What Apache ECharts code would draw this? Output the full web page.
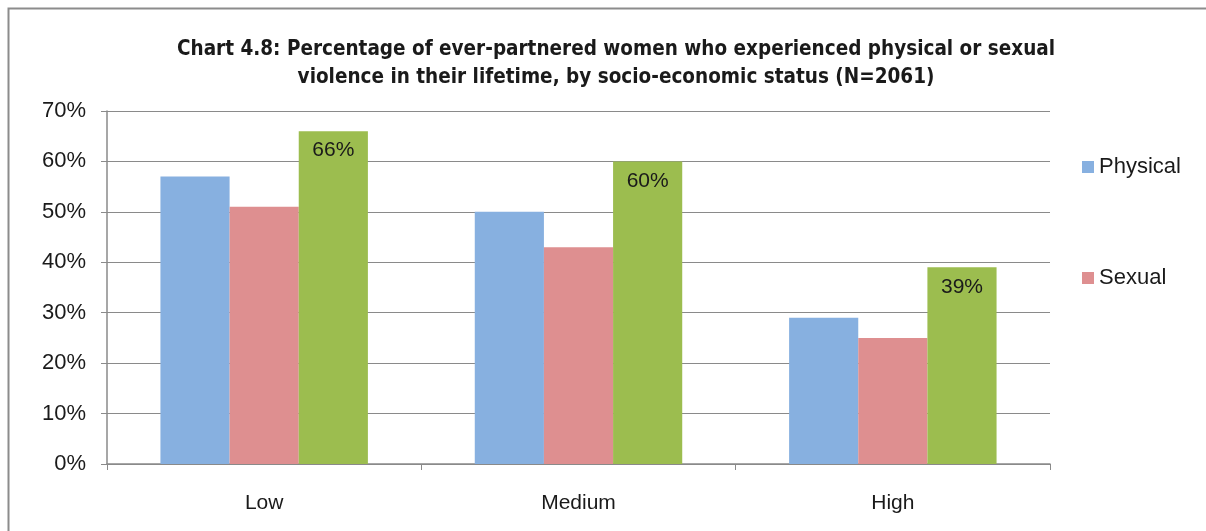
<!DOCTYPE html>
<html>
<head>
<meta charset="utf-8">
<script src="https://cdn.jsdelivr.net/npm/echarts@6/dist/echarts.min.js"></script>
<style>
  html, body { margin: 0; padding: 0; background: #fff; }
  #chart { width: 1206px; height: 531px; }
</style>
</head>
<body>
<div id="chart"></div>
<script>
var categories = ['Low', 'Medium', 'High'];
var physical = [57, 50, 29];
var sexual = [51, 43, 25];
var physicalOrSexual = [66, 60, 39];
var yTicks = [0, 10, 20, 30, 40, 50, 60, 70];

var chart = echarts.init(document.getElementById('chart'));

var option = {
  backgroundColor: '#ffffff',
  animation: false,
  title: {
    text: 'Chart 4.8: Percentage of ever-partnered women who experienced physical or sexual\nviolence in their lifetime, by socio-economic status (N=2061)',
    left: 611,
    textAlign: 'center',
    top: 31,
    textStyle: {
      fontFamily: 'DejaVu Sans Condensed',
      fontWeight: 'bold',
      fontSize: 20.5,
      lineHeight: 28,
      color: '#1a1a1a'
    }
  },
  graphic: [{
    type: 'rect',
    shape: { x: 8.5, y: 8.5, width: 1210, height: 540 },
    style: { fill: 'none', stroke: '#8c8c8c', lineWidth: 2 }
  }],
  legend: {
    orient: 'vertical',
    left: 1077,
    top: 151,
    itemGap: 89,
    itemWidth: 12,
    itemHeight: 12,
    icon: 'rect',
    data: ['Physical', 'Sexual'],
    textStyle: { fontFamily: 'Liberation Sans', fontSize: 22, color: '#1a1a1a', padding: [0, 0, 0, 0] }
  },
  grid: {
    left: 107,
    right: 156,
    top: 111,
    bottom: 67,
    containLabel: false
  },
  xAxis: {
    type: 'category',
    data: categories,
    axisLine: { lineStyle: { color: '#8a8a8a', width: 1.5 } },
    axisTick: { show: true, length: 6, lineStyle: { color: '#8a8a8a' } },
    axisLabel: { fontFamily: 'Liberation Sans', fontSize: 21, color: '#1a1a1a', margin: 29 }
  },
  yAxis: {
    type: 'value',
    min: yTicks[0],
    max: yTicks[yTicks.length - 1],
    interval: 10,
    axisLine: { show: true, lineStyle: { color: '#8a8a8a', width: 1.5 } },
    axisTick: { show: true, length: 6, lineStyle: { color: '#8a8a8a' } },
    splitLine: { lineStyle: { color: '#8a8a8a', width: 1.2 } },
    axisLabel: {
      fontFamily: 'Liberation Sans',
      fontSize: 22,
      color: '#1a1a1a',
      margin: 21,
      formatter: '{value}%'
    }
  },
  series: [{
    name: 'Physical',
    type: 'bar',
    data: physical,
    barGap: '0%',
    barCategoryGap: '34%',
    itemStyle: { color: '#87b0e0' }
  }, {
    name: 'Sexual',
    type: 'bar',
    data: sexual,
    itemStyle: { color: '#de8f90' }
  }, {
    name: 'Physical or sexual',
    type: 'bar',
    data: physicalOrSexual,
    itemStyle: { color: '#9cbd4f' },
    label: {
      show: true,
      position: 'insideTop',
      distance: 9,
      formatter: '{c}%',
      fontFamily: 'Liberation Sans',
      fontSize: 21,
      color: '#1a1a1a'
    }
  }]
};

chart.setOption(option);
</script>
</body>
</html>
